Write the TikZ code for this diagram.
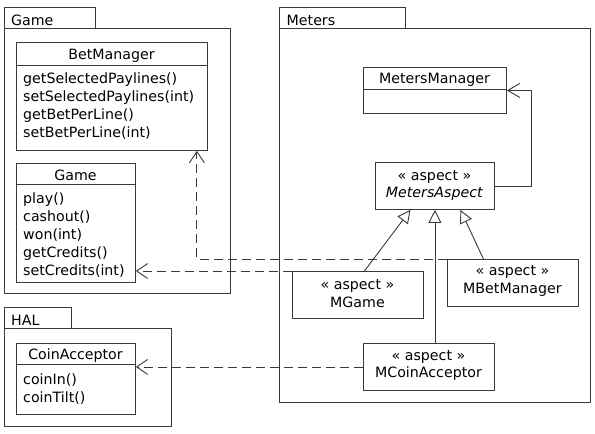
\documentclass[tikz,border=0pt]{standalone}
\usepackage{fontspec}
\setmainfont{DejaVu Sans}
\usetikzlibrary{arrows.meta}
\definecolor{linec}{HTML}{3A3A3A}
\tikzset{
  box/.style={draw=linec, line width=0.9pt, inner sep=0pt, anchor=north west, fill=white},
  lbl/.style={inner sep=0pt, font=\fontsize{14.2}{18}\selectfont, text=black},
  hdr/.style={lbl},
  asp/.style={inner sep=0pt, font=\fontsize{14.2}{17.5}\selectfont, text=black, align=center},
  meth/.style={lbl, anchor=base west, align=left},
  dep/.style={draw=linec, line width=0.9pt, dash pattern=on 9pt off 5pt, -{Straight Barb[length=11pt,width=15pt,line width=0.9pt]}},
  assoc/.style={draw=linec, line width=0.9pt, -{Straight Barb[length=12pt,width=14pt,line width=0.9pt]}},
  gen/.style={draw=linec, line width=0.9pt, -{Triangle[open,length=13pt,width=13pt,line width=0.9pt]}},
}
\begin{document}
\begin{tikzpicture}[x=1pt,y=-1pt]
\useasboundingbox (0,0) rectangle (595,434);
% Packages
\node[box, minimum width=91, minimum height=21] (gtab) at (4,7) {};
\node[box, minimum width=226, minimum height=265] (gpkg) at (4,28) {};
\node[lbl, anchor=west] (gtabt) at (11,20) {Game};
\node[box, minimum width=126, minimum height=21] (mtab) at (279,7) {};
\node[box, minimum width=311, minimum height=374] (mpkg) at (279,28) {};
\node[lbl, anchor=west] (mtabt) at (286.5,20) {Meters};
\node[box, minimum width=67, minimum height=21] (htab) at (4,307) {};
\node[box, minimum width=167, minimum height=98] (hpkg) at (4,328) {};
\node[lbl, anchor=west] (htabt) at (11,320) {HAL};
% BetManager
\node[box, minimum width=191, minimum height=108] (bm) at (16,42) {};
\draw[draw=linec, line width=0.9pt] (16,65) -- (207,65);
\node[hdr] (bmt) at (111.5,56) {BetManager};
\node[meth] (bmm) at (23,137) {getSelectedPaylines()\\setSelectedPaylines(int)\\getBetPerLine()\\setBetPerLine(int)};
% Game
\node[box, minimum width=119, minimum height=119] (game) at (16,163) {};
\draw[draw=linec, line width=0.9pt] (16,184) -- (135,184);
\node[lbl] (gamet) at (75.5,175.5) {Game};
\node[meth] (gamem) at (23,275) {play()\\cashout()\\won(int)\\getCredits()\\setCredits(int)};
% CoinAcceptor
\node[box, minimum width=119, minimum height=71] (ca) at (16,343) {};
\draw[draw=linec, line width=0.9pt] (16,364) -- (135,364);
\node[lbl] (cat) at (75.5,355.5) {CoinAcceptor};
\node[meth] (cam) at (23,402) {coinIn()\\coinTilt()};
% MetersManager
\node[box, minimum width=143, minimum height=46] (mm) at (363,67) {};
\draw[draw=linec, line width=0.9pt] (363,89) -- (506,89);
\node[hdr] (mmt) at (434.5,79.5) {MetersManager};
% MetersAspect
\node[box, minimum width=119, minimum height=47] (ma) at (375,162) {};
\node[asp] (mat) at (434.5,185.5) {« aspect »\\\textit{MetersAspect}};
% MGame
\node[box, minimum width=131, minimum height=47] (mg) at (292,271) {};
\node[asp] (mgt) at (357.5,293.5) {« aspect »\\MGame};
% MBetManager
\node[box, minimum width=131, minimum height=47] (mbm) at (447,259) {};
\node[asp] (mbmt) at (512.5,281) {« aspect »\\MBetManager};
% MCoinAcceptor
\node[box, minimum width=131, minimum height=47] (mca) at (363,343) {};
\node[asp] (mcat) at (428.5,365.5) {« aspect »\\MCoinAcceptor};
% Connectors
\draw[assoc] (ma.east) -- ++(37,0) |- (mm.east);
\draw[gen] ([xshift=6.5pt]mg.north) -- ([xshift=-24.5pt]ma.south);
\draw[gen] (mca.north -| ma.south) -- (ma.south);
\draw[gen] ([xshift=-29.5pt]mbm.north) -- ([xshift=25.5pt]ma.south);
\draw[dep] (mbm.north west) -| ([xshift=-11pt]bm.south east);
\draw[dep] (mg.north west) -- (mg.north west -| game.east);
\draw[dep] (mca.west) -- (mca.west -| ca.east);
\end{tikzpicture}
\end{document}
